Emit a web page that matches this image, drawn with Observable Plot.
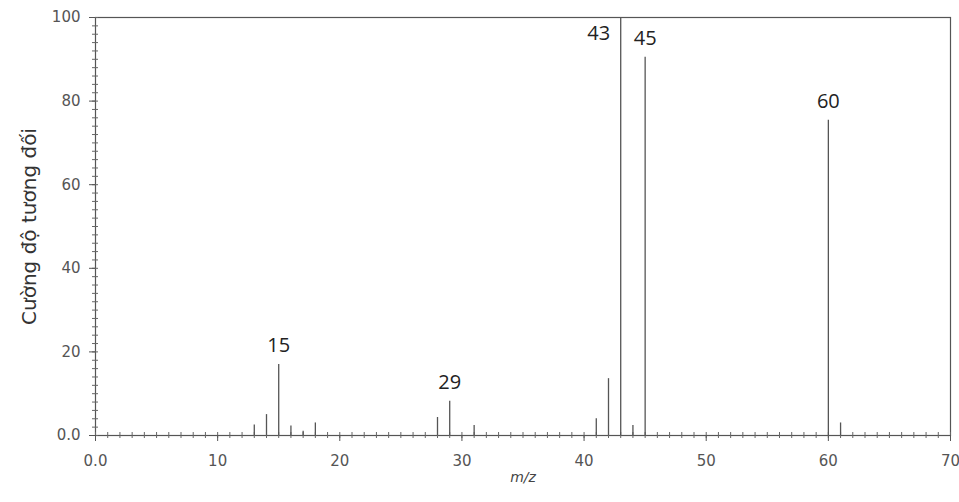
<!DOCTYPE html>
<html>
<head>
<meta charset="utf-8">
<script src="https://cdn.jsdelivr.net/npm/d3@7"></script>
<script src="https://cdn.jsdelivr.net/npm/@observablehq/plot@0.6"></script>
<style>
  html, body { margin: 0; padding: 0; background: #fff; }
</style>
</head>
<body>
<div id="chart"></div>
<script>
// Mass spectrum peaks (m/z, relative intensity %)
const mz        = [13, 14, 15, 16, 17, 18, 28, 29, 31, 41, 42, 43, 44, 45, 60, 61];
const intensity = [2.5, 5, 17, 2.3, 1, 3, 4.3, 8.2, 2.4, 4, 13.6, 100, 2.4, 90.5, 75.4, 3];

// Labelled peaks
const labelMz   = [15, 29, 43, 45, 60];
const labelText = ["15", "29", "43", "45", "60"];
const labelY    = [17, 8.2, 100, 90.5, 75.4];

// Axis ticks
const xTicks = [0, 10, 20, 30, 40, 50, 60, 70];
const xTickLabels = ["0.0", "10", "20", "30", "40", "50", "60", "70"];
const yTicks = [0, 20, 40, 60, 80, 100];
const yTickLabels = ["0.0", "20", "40", "60", "80", "100"];
const xMinor = d3.range(0, 71, 1);
const yMinor = d3.range(0, 101, 2);

const peaks = mz.map((m, i) => ({mz: m, y: intensity[i]}));
const labels = labelMz.map((m, i) => ({mz: m, y: labelY[i], t: labelText[i]}));

const chart = Plot.plot({
  width: 959,
  height: 502,
  marginLeft: 95,
  marginRight: 9,
  marginTop: 17,
  marginBottom: 67,
  x: {domain: [0, 70]},
  y: {domain: [0, 100]},
  style: {fontFamily: "DejaVu Sans", color: "#444", background: "#fff"},
  marks: [
    Plot.frame({stroke: "#555", strokeWidth: 1.2}),
    // minor ticks (crossing the axis lines)
    Plot.ruleX(xMinor, {x: (d) => d, y1: 0, y2: 0, insetTop: 3, insetBottom: 3, stroke: "#666", strokeWidth: 1}),
    Plot.ruleY(yMinor, {y: (d) => d, x1: 0, x2: 0, insetLeft: -3, insetRight: -3, stroke: "#666", strokeWidth: 1}),
    // major ticks
    Plot.axisX({ticks: xTicks, tickSize: 6, tickPadding: 14, tickFormat: (d) => xTickLabels[xTicks.indexOf(d)], label: null, fontSize: 15, fill: "#555", stroke: "#555"}),
    Plot.axisY({ticks: yTicks, tickSize: 6, tickPadding: 9, tickFormat: (d) => yTickLabels[yTicks.indexOf(d)], label: null, fontSize: 15, fill: "#555", stroke: "#555"}),
    // peaks
    Plot.ruleX(peaks, {x: "mz", y1: 0, y2: "y", stroke: "#555", strokeWidth: 1.3}),
    // peak labels
    Plot.text(labels.filter(d => d.t !== "43"), {x: "mz", y: "y", text: "t", dy: -19, fontSize: 20, fill: "#222", fontFamily: "Open Sans"}),
    Plot.text(labels.filter(d => d.t === "43"), {x: "mz", y: "y", text: "t", dx: -22, dy: 16, fontSize: 20, fill: "#222", fontFamily: "Open Sans"}),
    // axis titles
    Plot.text(["Cường độ tương đối"], {frameAnchor: "left", textAnchor: "middle", rotate: -90, dx: -66, fontSize: 20, fill: "#333", fontFamily: "DejaVu Sans"}),
    Plot.text(["m/z"], {frameAnchor: "bottom", dy: 46, fontSize: 14, fontStyle: "italic", fill: "#444", fontFamily: "DejaVu Sans"})
  ]
});
document.getElementById("chart").append(chart);
</script>
</body>
</html>
